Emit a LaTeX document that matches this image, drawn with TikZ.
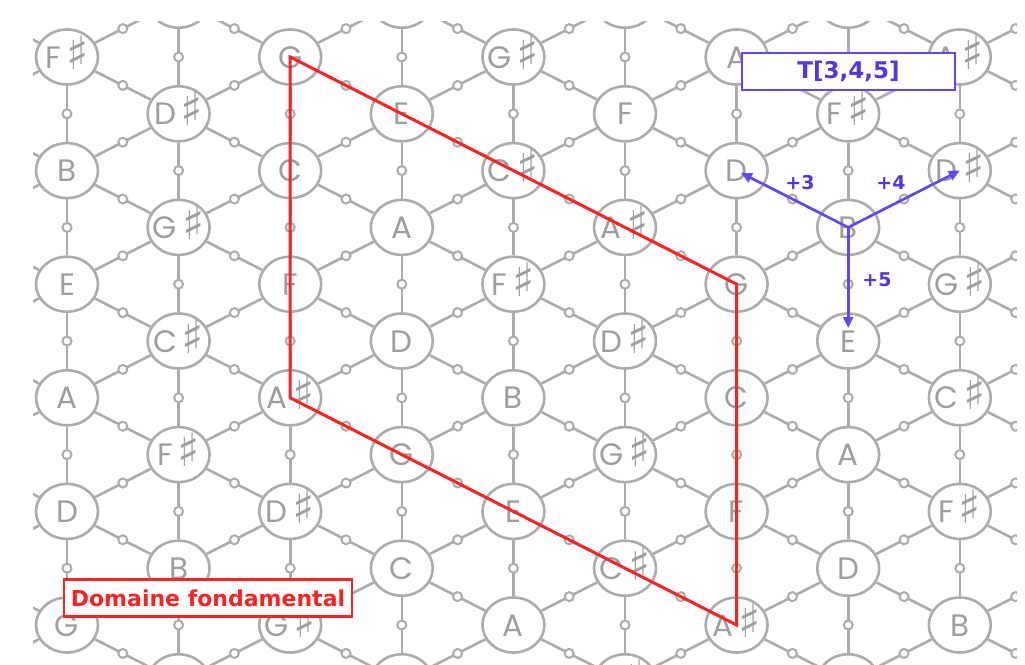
\documentclass[tikz,border=0pt]{standalone}
\usepackage{fontspec}
\setmainfont{DejaVu Sans}
\newfontfamily\notefont{Poppins}
\newfontfamily\symfont{DejaVu Sans}
\usetikzlibrary{shapes.geometric,arrows.meta}
\definecolor{gridgray}{RGB}{172,172,172}
\definecolor{notegray}{RGB}{158,158,158}
\definecolor{domred}{RGB}{250,35,35}
\definecolor{tblue}{RGB}{95,72,245}
\definecolor{tbluetext}{RGB}{80,55,225}
\newcommand\shp{\kern5pt\raisebox{-1pt}{\symfont\fontsize{46}{46}\selectfont ♯}}
\newcommand\notename[1]{\ifcase#1 C\or C\shp\or D\or D\shp\or E\or F\or F\shp\or G\or G\shp\or A\or A\shp\or B\fi}
\newcommand\notetext[1]{\makebox[0pt]{\smash{\raisebox{-11pt}{\notename{#1}}}}}
\begin{document}
\begin{tikzpicture}[x=1pt,y=-1pt,
  note/.style={ellipse, draw=gridgray, line width=2.6pt, minimum width=62pt,
    minimum height=55pt, inner sep=0pt, text=notegray,
    font=\notefont\fontsize{31}{31}\selectfont},
  lnk/.style={draw=gridgray, line width=2.6pt},
  mdot/.style={circle, draw=gridgray, fill=white, line width=2pt,
    minimum size=9pt, inner sep=0pt},
  domline/.style={draw=domred, line width=3pt, line join=miter},
  tarrow/.style={draw=tblue, line width=2.6pt,
    -{Triangle[length=11pt,width=10pt]}},
  tlabel/.style={text=tbluetext, font=\bfseries\fontsize{19}{19}\selectfont, inner sep=0pt},
  tboxstyle/.style={draw=tblue, fill=white, line width=2.2pt, inner sep=0pt,
    text=tbluetext, font=\bfseries\fontsize{23}{23}\selectfont},
  domboxstyle/.style={draw=domred, fill=white, line width=2.2pt, inner sep=0pt,
    text=domred, font=\bfseries\fontsize{22}{22}\selectfont}
]
\useasboundingbox (0,0) rectangle (1025,664);
\begin{scope}
\clip (33,21) rectangle (1017,664);
\foreach \i in {-1,...,9}{
  \foreach \j in {-1,...,11}{
    \pgfmathtruncatemacro{\pty}{mod(\i+\j+100,2)}
    \ifnum\pty=0
      \pgfmathtruncatemacro{\p}{mod(6+((\i)-7*(\j))/2+120,12)}
      \node[note] (n\i_\j) at ({67+111.6*(\i)},{57+56.8*(\j)}) {\notetext{\p}};
    \fi
  }
}
\foreach \i in {-1,...,9}{
  \foreach \j in {-1,...,11}{
    \pgfmathtruncatemacro{\pty}{mod(\i+\j+100,2)}
    \ifnum\pty=0
      \pgfmathtruncatemacro{\ii}{\i+1}
      \pgfmathtruncatemacro{\jd}{\j+1}
      \pgfmathtruncatemacro{\ju}{\j-1}
      \pgfmathtruncatemacro{\jv}{\j+2}
      \ifnum\jv<12 \draw[lnk] (n\i_\j) -- node[mdot]{} (n\i_\jv); \fi
      \ifnum\i<9
        \ifnum\jd<12 \draw[lnk] (n\i_\j) -- node[mdot]{} (n\ii_\jd); \fi
        \ifnum\ju>-2 \draw[lnk] (n\i_\j) -- node[mdot]{} (n\ii_\ju); \fi
      \fi
    \fi
  }
}
\end{scope}
% fundamental domain
\draw[domline] (n2_0.center) -- (n6_4.center) -- (n6_10.center) -- (n2_6.center) -- cycle;
% T[3,4,5] arrows
\draw[tarrow, shorten >=5pt] (n7_3.center) -- (n6_2.center);
\draw[tarrow] (n7_3.center) -- (n8_2.center);
\draw[tarrow, shorten >=13pt] (n7_3.center) -- (n7_5.center);
\node[tlabel] (l3) at (800,183) {+3};
\node[tlabel] (l4) at (891,183) {+4};
\node[tlabel] (l5) at (877,280) {+5};
\node[tboxstyle, minimum width=213pt, minimum height=37pt] (tbox) at (848.5,71.5) {T[3,4,5]};
\node[domboxstyle, minimum width=288pt, minimum height=37pt] (dom) at (208,598) {Domaine fondamental};
\end{tikzpicture}
\end{document}
